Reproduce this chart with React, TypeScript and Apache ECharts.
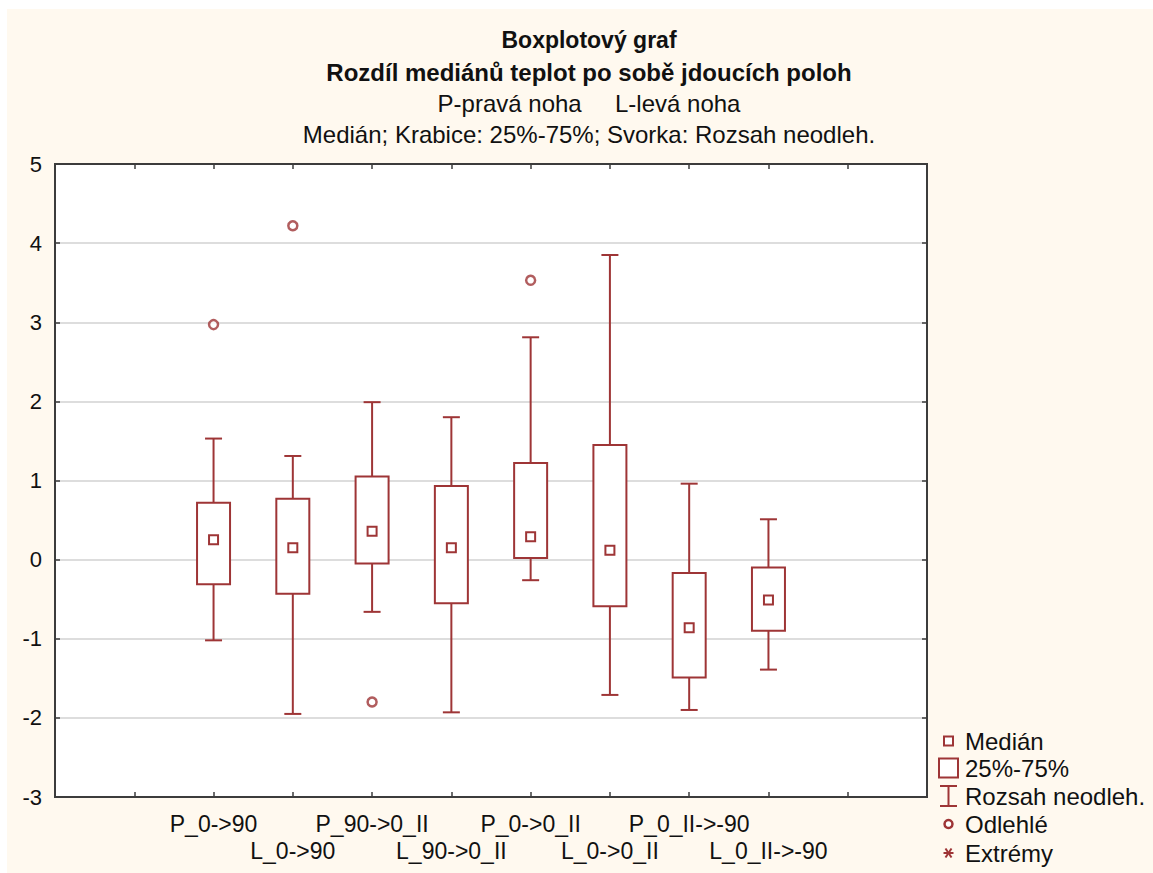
import React, { useEffect, useRef } from 'react';
import * as echarts from 'echarts';

// ---- data ----
const categories = ['P_0->90', 'L_0->90', 'P_90->0_II', 'L_90->0_II', 'P_0->0_II', 'L_0->0_II', 'P_0_II->-90', 'L_0_II->-90'];
const whiskerLow = [-1.02, -1.95, -0.66, -1.93, -0.26, -1.71, -1.90, -1.39];
const quartile1 = [-0.31, -0.43, -0.05, -0.55, 0.02, -0.59, -1.49, -0.90];
const medians = [0.25, 0.15, 0.36, 0.15, 0.29, 0.12, -0.86, -0.51];
const quartile3 = [0.72, 0.77, 1.05, 0.93, 1.22, 1.45, -0.17, -0.10];
const whiskerHigh = [1.53, 1.31, 1.99, 1.80, 2.81, 3.85, 0.96, 0.51];
// [category index, value]
const outlierPoints = [[0, 2.97], [1, 4.22], [2, -1.80], [4, 3.53]];
const legendLabels = ['Medián', '25%-75%', 'Rozsah neodleh.', 'Odlehlé', 'Extrémy'];
const titleLines = ['Boxplotový graf', 'Rozdíl mediánů teplot po sobě jdoucích poloh'];
const subtitleLines = ['P-pravá noha     L-levá noha', 'Medián; Krabice: 25%-75%; Svorka: Rozsah neodleh.'];

const RED = '#9E3536';
const AXIS = '#3c3c3c';
const FONT = '"Liberation Sans", Arial, sans-serif';
const OX = 7;
const OY = 9;
const W = 1153 - OX;
const H = 873 - OY;

export default function App() {
  const ref = useRef<HTMLDivElement>(null);
  useEffect(() => {
    document.body.style.margin = '0';
    const chart = echarts.init(ref.current!, null, { renderer: 'svg' });
    const boxData = categories.map((c, i) => [i + 2, whiskerLow[i], quartile1[i], medians[i], quartile3[i], whiskerHigh[i]]);
    const outData = outlierPoints.map(p => [p[0] + 2, p[1]]);

    const ls = { stroke: RED, lineWidth: 2, fill: 'none' };
    const lx = 948.5 - OX;
    const textX = 965 - OX;
    const rows = [741, 768, 796, 824, 853].map(v => v - OY);
    const legendGraphics: any[] = [
      { type: 'rect', shape: { x: lx - 4.5, y: rows[0] - 4.5, width: 9, height: 9 }, style: { ...ls, fill: '#fff' } },
      { type: 'rect', shape: { x: lx - 9.5, y: rows[1] - 9.5, width: 19, height: 19 }, style: { ...ls, fill: '#fff' } },
      { type: 'line', shape: { x1: lx, y1: rows[2] - 10, x2: lx, y2: rows[2] + 10 }, style: ls },
      { type: 'line', shape: { x1: lx - 8.5, y1: rows[2] - 10, x2: lx + 8.5, y2: rows[2] - 10 }, style: ls },
      { type: 'line', shape: { x1: lx - 8.5, y1: rows[2] + 10, x2: lx + 8.5, y2: rows[2] + 10 }, style: ls },
      { type: 'circle', shape: { cx: lx, cy: rows[3], r: 4 }, style: { ...ls, lineWidth: 2.5, fill: '#fff' } },
      { type: 'line', shape: { x1: lx - 5, y1: rows[4], x2: lx + 5, y2: rows[4] }, style: ls },
      { type: 'line', shape: { x1: lx - 3, y1: rows[4] - 4.5, x2: lx + 3, y2: rows[4] + 4.5 }, style: ls },
      { type: 'line', shape: { x1: lx + 3, y1: rows[4] - 4.5, x2: lx - 3, y2: rows[4] + 4.5 }, style: ls },
      ...legendLabels.map((t, i) => ({
        type: 'text', x: textX, y: rows[i],
        style: { text: t, fontSize: 24, fontFamily: FONT, fill: '#111', verticalAlign: 'middle', align: 'left' },
      })),
    ];

    const axisBase = {
      axisLine: { show: true, onZero: false, lineStyle: { color: AXIS, width: 2 } },
      axisTick: { show: true, inside: true, length: 5, lineStyle: { color: AXIS, width: 1.5 } },
    };

    const option: any = {
      animation: false,
      backgroundColor: '#FFF9EF',
      title: {
        text: '{a|' + titleLines[0] + '}\n{b|' + titleLines[1] + '}',
        subtext: subtitleLines.join('\n'),
        left: 584 - OX,
        textAlign: 'center',
        top: 19 - OY,
        itemGap: 0,
        textStyle: {
          fontFamily: FONT, fontSize: 23, fontWeight: 'bold', color: '#111', lineHeight: 32,
          rich: {
            a: { fontFamily: FONT, fontSize: 23, fontWeight: 'bold', color: '#111', lineHeight: 32 },
            b: { fontFamily: FONT, fontSize: 24, fontWeight: 'bold', color: '#111', lineHeight: 32 },
          },
        },
        subtextStyle: { fontFamily: FONT, fontSize: 24, color: '#111', lineHeight: 31 },
      },
      grid: {
        left: 55 - OX, top: 164 - OY, right: W - (927 - OX), bottom: H - (797 - OY),
        show: true, backgroundColor: '#ffffff', borderColor: AXIS, borderWidth: 2,
      },
      xAxis: [
        {
          type: 'value', min: 0, max: 11, interval: 1, position: 'bottom',
          ...axisBase,
          splitLine: { show: false },
          axisLabel: {
            show: true, margin: 13, fontSize: 23, lineHeight: 27, fontFamily: FONT, color: '#111',
            formatter: (v: number) => {
              const i = Math.round(v) - 2;
              if (i < 0 || i >= categories.length) return '';
              return i % 2 === 0 ? categories[i] : '\n' + categories[i];
            },
          },
        },
        {
          type: 'value', min: 0, max: 11, interval: 1, position: 'top',
          ...axisBase,
          axisLabel: { show: false }, splitLine: { show: false },
        },
      ],
      yAxis: [
        {
          type: 'value', min: -3, max: 5, interval: 1, position: 'left',
          ...axisBase,
          axisLabel: { show: true, margin: 13, fontSize: 22, fontFamily: FONT, color: '#111' },
          splitLine: { show: true, lineStyle: { color: '#dddddd', width: 2 } },
        },
        {
          type: 'value', min: -3, max: 5, interval: 1, position: 'right',
          ...axisBase,
          axisLabel: { show: false }, splitLine: { show: false },
        },
      ],
      series: [
        {
          type: 'custom', name: '25%-75%', xAxisIndex: 0, yAxisIndex: 0,
          data: boxData,
          encode: { x: 0, y: [1, 2, 3, 4, 5] },
          renderItem: (params: any, api: any) => {
            const x = api.value(0);
            const lo = api.coord([x, api.value(1)]);
            const p1 = api.coord([x, api.value(2)]);
            const md = api.coord([x, api.value(3)]);
            const p3 = api.coord([x, api.value(4)]);
            const hi = api.coord([x, api.value(5)]);
            const cx = lo[0];
            const bw = 33, cw = 17, ms = 9;
            const st = { stroke: RED, lineWidth: 2, fill: 'none' };
            return {
              type: 'group',
              children: [
                { type: 'line', shape: { x1: cx, y1: hi[1], x2: cx, y2: p3[1] }, style: st },
                { type: 'line', shape: { x1: cx, y1: p1[1], x2: cx, y2: lo[1] }, style: st },
                { type: 'line', shape: { x1: cx - cw / 2, y1: hi[1], x2: cx + cw / 2, y2: hi[1] }, style: st },
                { type: 'line', shape: { x1: cx - cw / 2, y1: lo[1], x2: cx + cw / 2, y2: lo[1] }, style: st },
                { type: 'rect', shape: { x: cx - bw / 2, y: p3[1], width: bw, height: p1[1] - p3[1] }, style: { ...st, fill: '#fff' } },
                { type: 'rect', shape: { x: cx - ms / 2, y: md[1] - ms / 2, width: ms, height: ms }, style: { ...st, fill: '#fff' } },
              ],
            };
          },
        },
        {
          type: 'scatter', name: 'Odlehlé', xAxisIndex: 0, yAxisIndex: 0,
          data: outData, symbol: 'circle', symbolSize: 9,
          itemStyle: { color: '#fff', borderColor: RED, borderWidth: 2.5 },
        },
      ],
      graphic: legendGraphics,
    };
    chart.setOption(option);
    return () => chart.dispose();
  }, []);

  return (
    <div style={{ position: 'fixed', left: 0, top: 0, width: 1153, height: 873, background: '#ffffff' }}>
      <div ref={ref} style={{ position: 'absolute', left: OX, top: OY, width: W, height: H }} />
    </div>
  );
}
